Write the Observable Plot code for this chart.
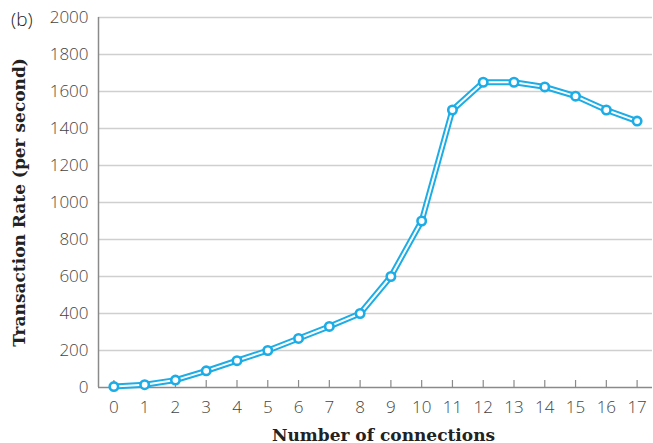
<!DOCTYPE html>
<html>
<head>
<meta charset="utf-8">
<script src="https://cdn.jsdelivr.net/npm/d3@7"></script>
<script src="https://cdn.jsdelivr.net/npm/@observablehq/plot@0.6"></script>
<style>
  html, body { margin: 0; padding: 0; background: #fff; }
  #wrap { position: relative; width: 653px; height: 443px; }
  #panel { position: absolute; left: 11px; top: 6px; font: 300 19px "Open Sans", sans-serif; color: #222; }
  svg { display: block; }
</style>
</head>
<body>
<div id="wrap"><div id="panel">(b)</div></div>
<script>
const connections = [0,1,2,3,4,5,6,7,8,9,10,11,12,13,14,15,16,17];
const rates = [5,15,40,90,145,200,265,330,400,600,900,1500,1650,1650,1625,1575,1500,1440];
const yTicks = [0,200,400,600,800,1000,1200,1400,1600,1800,2000];
const gridTicks = [200,400,600,800,1000,1200,1400,1600,1800,2000];

const data = connections.map((c, i) => ({c, r: rates[i]}));
const cyan = "#1cace6";

const chart = Plot.plot({
  width: 653,
  height: 443,
  marginLeft: 98,
  marginRight: 1,
  marginTop: 17,
  marginBottom: 56,
  style: {fontFamily: "'Open Sans', sans-serif", fontSize: "17px", fontWeight: 300, color: "#444", background: "transparent"},
  x: {domain: [-0.5, 17.5]},
  y: {domain: [0, 2000]},
  marks: [
    Plot.ruleY(gridTicks, {stroke: "#cfcfcf", strokeWidth: 1.5, strokeOpacity: 1}),
    Plot.ruleY([0], {stroke: "#8a8a8a", strokeWidth: 1.5}),
    Plot.ruleX([-0.5], {y1: 0, y2: 2000, stroke: "#8a8a8a", strokeWidth: 1.5}),
    Plot.axisX({ticks: connections, tickSize: 7, text: null, dy: -7, stroke: "#8a8a8a", strokeWidth: 1.2, label: null}),
    Plot.axisX({ticks: connections, tickSize: 0, tickPadding: 13, tickFormat: d => String(d), fill: "#444",
      label: "Number of connections", labelAnchor: "center", labelOffset: 53}),
    Plot.axisY({ticks: yTicks, tickSize: 0, tickPadding: 10, tickFormat: d => String(d), fill: "#444",
      label: "Transaction Rate (per second)", labelAnchor: "center", labelOffset: 86}),
    Plot.line(data, {x: "c", y: "r", stroke: cyan, strokeWidth: 6}),
    Plot.line(data, {x: "c", y: "r", stroke: "#fff", strokeWidth: 2}),
    Plot.dot(data, {x: "c", y: "r", r: 4.2, stroke: cyan, strokeWidth: 2.6, fill: "#fff"})
  ]
});
document.getElementById("wrap").appendChild(chart);
chart.querySelectorAll("g[aria-label='x-axis label'] text, g[aria-label='y-axis label'] text").forEach(t => {
  t.setAttribute("font-family", "'DejaVu Serif', serif");
  t.setAttribute("font-weight", "bold");
  t.setAttribute("font-size", "17px");
  t.setAttribute("fill", "#222");
  t.style.fontFamily = "'DejaVu Serif', serif";
  t.style.fontWeight = "bold";
  t.textContent = t.textContent.replace(/\s*[→↑]\s*/g, "");
});
const xl = chart.querySelector("g[aria-label='x-axis label']");
if (xl) xl.setAttribute("transform", (xl.getAttribute("transform") || "") + " translate(8,0)");
</script>
</body>
</html>
